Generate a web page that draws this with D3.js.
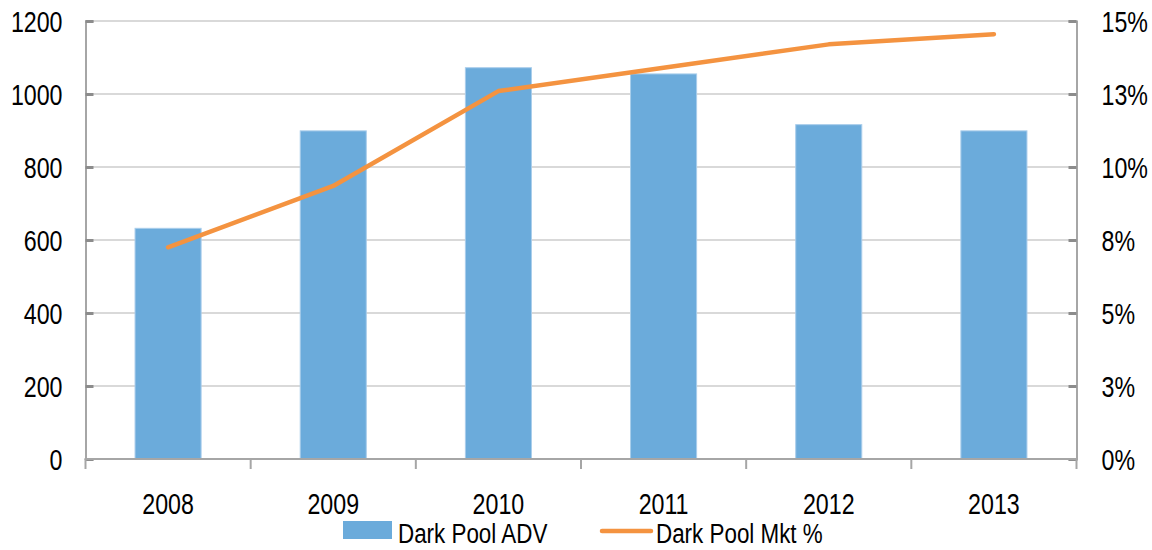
<!DOCTYPE html>
<html><head><meta charset="utf-8">
<script src="https://cdn.jsdelivr.net/npm/d3@7"></script>
<style>body{margin:0;background:#fff}svg{display:block}text{font-family:"Liberation Sans",Arial,sans-serif;fill:#000}</style>
</head><body>
<svg id="c" width="1152" height="550"></svg>
<script>
const years = ["2008","2009","2010","2011","2012","2013"];
const advValues = [632, 899, 1072, 1055, 916, 899];
const mktPct = [7.25, 9.35, 12.6, 13.4, 14.2, 14.55];
const leftTicks = [0,200,400,600,800,1000,1200];
const rightTicks = [0,2.5,5,7.5,10,12.5,15];
const rightTickLabels = ["0%","3%","5%","8%","10%","13%","15%"];
const legendLabels = ["Dark Pool ADV","Dark Pool Mkt %"];

const W=1152,H=550, L=85.5, R=1076.5, T=21, B=459;
const SX=0.8;
const svg=d3.select("#c");
const x=d3.scaleBand().domain(years).range([L,R]).paddingInner(0.6).paddingOuter(0.3);
const xc=d3.scaleBand().domain(years).range([L,R]);
const yL=d3.scaleLinear().domain([0,1200]).range([B,T]);
const yR=d3.scaleLinear().domain([0,15]).range([B,T]);

function squeeze(sel){
  sel.each(function(){
    const t=d3.select(this);
    const xx=+t.attr("x")||0;
    t.attr("transform",`translate(${xx},0) scale(${SX},1) translate(${-xx},0)`);
  });
}

// gridlines
svg.append("g").selectAll("line").data(leftTicks.slice(1)).join("line")
  .attr("x1",L).attr("x2",R).attr("y1",d=>yL(d)).attr("y2",d=>yL(d))
  .attr("stroke","#D9D9D9").attr("stroke-width",2);

// bars
svg.append("g").selectAll("rect").data(years).join("rect")
  .attr("x",d=>x(d)).attr("width",x.bandwidth())
  .attr("y",(d,i)=>yL(advValues[i])).attr("height",(d,i)=>B-yL(advValues[i]))
  .attr("fill","#6BABDB").attr("stroke","#A9CDEB").attr("stroke-width",1);

// axes
const axisCol="#A6A6A6";
const gl=svg.append("g").attr("transform",`translate(${L},0)`)
  .call(d3.axisLeft(yL).tickValues(leftTicks).tickSize(-8).tickPadding(23).tickFormat(d3.format("d")));
const gr=svg.append("g").attr("transform",`translate(${R},0)`)
  .call(d3.axisRight(yR).tickValues(rightTicks).tickSize(-8).tickPadding(25).tickFormat((d,i)=>rightTickLabels[i]));
[gl,gr].forEach(g=>{
  g.select(".domain").attr("stroke",axisCol).attr("stroke-width",2);
  g.selectAll(".tick line").attr("stroke","#8C8C8C").attr("stroke-width",3);
  g.selectAll("text").style("font-size","29px").attr("dy","0.36em").call(squeeze);
});
// bottom axis
const gb=svg.append("g").attr("transform",`translate(0,${B})`);
gb.append("line").attr("x1",L-1).attr("x2",R+1).attr("stroke",axisCol).attr("stroke-width",2);
gb.selectAll("line.t").data(years.concat(["end"])).join("line").attr("class","t")
  .attr("x1",(d,i)=>L+i*xc.bandwidth()).attr("x2",(d,i)=>L+i*xc.bandwidth())
  .attr("y1",0).attr("y2",10).attr("stroke",axisCol).attr("stroke-width",2);
gb.selectAll("text").data(years).join("text")
  .attr("x",d=>xc(d)+xc.bandwidth()/2).attr("y",55).attr("text-anchor","middle")
  .style("font-size","29px").text(d=>d).call(squeeze);

// line
const line=d3.line().x((d,i)=>xc(years[i])+xc.bandwidth()/2).y(d=>yR(d));
svg.append("path").datum(mktPct).attr("d",line).attr("fill","none")
  .attr("stroke","#F49340").attr("stroke-width",4.5).attr("stroke-linecap","round").attr("stroke-linejoin","round");

// legend
const lg=svg.append("g");
lg.append("rect").attr("x",343).attr("y",521).attr("width",49).attr("height",18).attr("fill","#6BABDB");
lg.append("text").attr("x",398).attr("y",543).style("font-size","28px").text(legendLabels[0]).call(squeeze);
lg.append("line").attr("x1",602).attr("x2",651).attr("y1",531).attr("y2",531)
  .attr("stroke","#F49340").attr("stroke-width",4.5).attr("stroke-linecap","round");
lg.append("text").attr("x",656).attr("y",543).style("font-size","28px").text(legendLabels[1]).call(squeeze);
</script>
</body></html>
